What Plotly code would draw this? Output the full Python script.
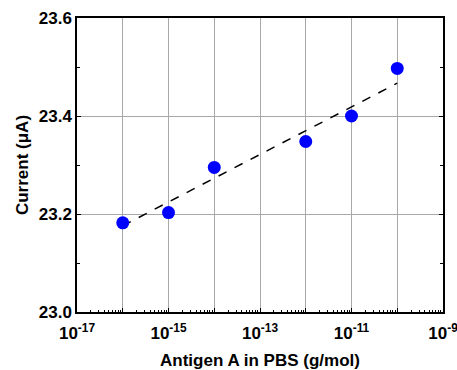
import plotly.graph_objects as go

conc = [1e-16, 1e-15, 1e-14, 1e-12, 1e-11, 1e-10]
current = [23.182, 23.203, 23.295, 23.348, 23.400, 23.497]
fit_x = [1e-16, 1e-10]
fit_y = [23.176, 23.467]

major_exps = list(range(-17, -8))
major_vals = [float("1e%d" % e) for e in major_exps]
major_text = ["<b>10<sup>%d</sup></b>" % e if (e + 17) % 2 == 0 else "" for e in major_exps]
minor_vals = [float("%de%d" % (k, e)) for e in range(-17, -9) for k in range(2, 10)]
y_vals = [23.0, 23.2, 23.4, 23.6]
y_text = ["<b>%.1f</b>" % v for v in y_vals]

font = dict(family="Liberation Sans, Arial, sans-serif", color="black")

fig = go.Figure()
fig.add_trace(go.Scatter(x=fit_x, y=fit_y, mode="lines",
                         line=dict(color="black", width=1.5, dash="dash"), showlegend=False))
fig.add_trace(go.Scatter(x=conc, y=current, mode="markers",
                         marker=dict(color="#0000ff", size=13), showlegend=False))

fig.update_layout(
    width=457, height=370,
    margin=dict(l=77, r=14, t=18, b=58),
    paper_bgcolor="white", plot_bgcolor="white",
    font=font,
    xaxis=dict(
        type="log", range=[-17.0001, -8.9999], automargin=False,
        tickmode="array", tickvals=major_vals, ticktext=major_text,
        ticks="inside", ticklen=4, tickcolor="black",
        showgrid=True, gridcolor="#a8a8a8", gridwidth=1,
        showline=True, linecolor="black", linewidth=1.5, mirror=True,
        tickfont=dict(size=17, color="black"),
        ticklabelstandoff=5, ticklabeloverflow="allow",
        title=dict(text="<b>Antigen A in PBS (g/mol)</b>", font=dict(size=17), standoff=12),
        minor=dict(tickmode="array", tickvals=minor_vals, ticks="inside", ticklen=2,
                   tickcolor="black", showgrid=False),
        zeroline=False,
    ),
    yaxis=dict(
        range=[23.0, 23.6], tickmode="array", tickvals=y_vals, ticktext=y_text,
        automargin=False,
        ticks="inside", ticklen=4, tickcolor="black",
        showgrid=True, gridcolor="#a8a8a8", gridwidth=1,
        showline=True, linecolor="black", linewidth=1.5, mirror="ticks",
        tickfont=dict(size=17, color="black"),
        title=dict(text="<b>Current (μA)</b>", font=dict(size=17), standoff=6),
        minor=dict(tickmode="array", tickvals=[23.1, 23.3, 23.5], ticks="inside", ticklen=3,
                   tickcolor="black", showgrid=False),
        zeroline=False,
    ),
)

fig.write_html("out.html")
